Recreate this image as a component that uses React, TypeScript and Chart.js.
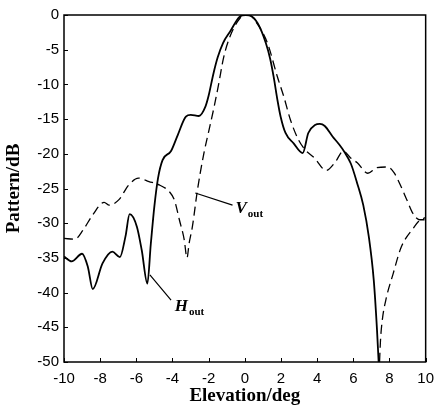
import React, { useEffect, useRef } from "react";
import { Chart, registerables } from "chart.js";

Chart.register(...registerables);

// H_out (solid)
const hOutX = [-10, -9.58, -9.0, -8.68, -8.41, -7.87, -7.33, -6.91, -6.6, -6.37, -5.97, -5.7, -5.39, -5.2, -5.0, -4.8, -4.55, -4.08, -3.71, -3.26, -2.99, -2.54, -2.18, -2.0, -1.75, -1.5, -1.2, -0.82, -0.28, 0.05, 0.26, 0.71, 1.17, 1.4, 1.6, 1.8, 1.98, 2.25, 2.7, 3.2, 3.51, 3.88, 4.15, 4.42, 4.85, 5.23, 5.5, 5.86, 6.22, 6.55, 6.86, 7.13, 7.31, 7.4, 7.45];
const hOutY = [-34.8, -35.5, -34.4, -36.3, -39.5, -35.8, -34.1, -34.9, -31.9, -28.7, -30.5, -33.9, -38.7, -33.0, -27.5, -23.5, -20.9, -19.6, -17.3, -14.65, -14.4, -14.55, -13.2, -11.6, -8.6, -6.1, -4.0, -2.4, -0.24, 0, -0.05, -1.2, -4.1, -6.3, -9.0, -12.2, -14.65, -17.0, -18.5, -19.9, -17.0, -15.85, -15.7, -16.0, -17.5, -18.7, -19.7, -21.4, -24.3, -27.4, -32.0, -38.2, -45.4, -50, -52];

// V_out (dashed), main path
const vOutX = [-10, -9.4, -8.95, -8.41, -7.78, -7.5, -6.96, -6.42, -5.88, -5.3, -4.8, -4.16, -3.89, -3.62, -3.35, -3.2, -3.08, -2.9, -2.63, -2.27, -2.0, -1.72, -1.45, -1.18, -0.82, -0.28, 0.05, 0.3, 0.75, 1.26, 1.8, 2.16, 2.52, 2.97, 3.33, 3.85, 4.5, 5.0, 5.45, 5.85, 6.22, 6.8, 7.3, 7.9, 8.27, 8.6, 8.97, 9.3, 9.66, 9.95];
const vOutY = [-32.2, -32.3, -31.0, -28.8, -27.0, -27.4, -26.6, -24.5, -23.5, -24.0, -24.4, -25.5, -26.7, -29.5, -32.4, -35.0, -32.9, -30.5, -25.4, -20.0, -16.8, -13.5, -10.0, -6.2, -3.1, -0.5, 0, -0.1, -1.5, -4.1, -8.9, -11.8, -15.1, -18.0, -19.4, -20.6, -22.4, -21.2, -19.6, -20.6, -21.3, -22.8, -22.0, -21.9, -22.8, -24.5, -26.7, -28.6, -29.5, -29.5];

// V_out (dashed), branch rising from the null
const vBranchX = [7.42, 7.5, 7.6, 7.83, 8.2, 8.64, 9.35, 9.66, 10];
const vBranchY = [-52, -47, -44, -40.7, -37.3, -33.5, -30.6, -29.6, -29.2];

const xTicks = [-10, -8, -6, -4, -2, 0, 2, 4, 6, 8, 10];
const yTicks = [0, -5, -10, -15, -20, -25, -30, -35, -40, -45, -50];

// annotation leader lines and labels (data units)
const hLeaderX = [-5.25, -4.08];
const hLeaderY = [-37.46, -41.07];
const vLeaderX = [-2.74, -0.68];
const vLeaderY = [-25.65, -27.4];
const hLabelPos = [-3.875, -42.65];
const vLabelPos = [-0.515, -28.53];

const toPts = (xs: number[], ys: number[]) => xs.map((x, i) => ({ x, y: ys[i] }));

const framePlugin = {
  id: "frameAndNotes",
  afterDatasetsDraw(chart: any) {
    const { ctx, chartArea: a, scales } = chart;
    const sx = scales.x;
    const sy = scales.y;
    ctx.save();
    ctx.strokeStyle = "#000";
    ctx.lineWidth = 1;
    ctx.beginPath();
    xTicks.forEach((v) => {
      const px = Math.round(sx.getPixelForValue(v)) + 0.5;
      ctx.moveTo(px, a.bottom);
      ctx.lineTo(px, a.bottom - 4);
    });
    yTicks.forEach((v) => {
      const py = Math.round(sy.getPixelForValue(v)) + 0.5;
      ctx.moveTo(a.left, py);
      ctx.lineTo(a.left + 4, py);
    });
    ctx.stroke();

    ctx.lineWidth = 1.5;
    ctx.strokeRect(a.left, a.top, a.right - a.left, a.bottom - a.top);

    // leaders
    ctx.lineWidth = 1.2;
    ctx.beginPath();
    ctx.moveTo(sx.getPixelForValue(hLeaderX[0]), sy.getPixelForValue(hLeaderY[0]));
    ctx.lineTo(sx.getPixelForValue(hLeaderX[1]), sy.getPixelForValue(hLeaderY[1]));
    ctx.moveTo(sx.getPixelForValue(vLeaderX[0]), sy.getPixelForValue(vLeaderY[0]));
    ctx.lineTo(sx.getPixelForValue(vLeaderX[1]), sy.getPixelForValue(vLeaderY[1]));
    ctx.stroke();

    // labels
    ctx.fillStyle = "#000";
    ctx.textBaseline = "alphabetic";
    ctx.textAlign = "left";
    const drawLabel = (main: string, pos: number[]) => {
      const px = sx.getPixelForValue(pos[0]);
      const py = sy.getPixelForValue(pos[1]);
      ctx.font = 'italic bold 17px "Liberation Serif", serif';
      ctx.fillText(main, px, py);
      const w = ctx.measureText(main).width;
      ctx.font = 'bold 11px "Liberation Serif", serif';
      ctx.fillText("out", px + w + 1, py + 4);
    };
    drawLabel("H", hLabelPos);
    drawLabel("V", vLabelPos);
    ctx.restore();
  },
};

export default function App() {
  const ref = useRef<HTMLCanvasElement | null>(null);
  useEffect(() => {
    document.body.style.margin = "0";
    const canvas = ref.current;
    if (!canvas) return;
    const tickFont = { family: '"Liberation Sans", Arial, sans-serif', size: 15 };
    const titleFont = { family: '"Liberation Serif", "Times New Roman", serif', size: 19, weight: "bold" as const, lineHeight: 1.2 };
    const chart = new Chart(canvas, {
      type: "line",
      data: {
        datasets: [
          {
            label: "H_out",
            data: toPts(hOutX, hOutY),
            borderColor: "#000",
            borderWidth: 1.8,
            pointRadius: 0,
            fill: false,
            cubicInterpolationMode: "monotone",
          },
          {
            label: "V_out",
            data: toPts(vOutX, vOutY),
            borderColor: "#000",
            borderWidth: 1.3,
            borderDash: [9, 5],
            pointRadius: 0,
            fill: false,
            cubicInterpolationMode: "monotone",
          },
          {
            label: "V_out branch",
            data: toPts(vBranchX, vBranchY),
            borderColor: "#000",
            borderWidth: 1.3,
            borderDash: [9, 5],
            pointRadius: 0,
            fill: false,
            cubicInterpolationMode: "monotone",
          },
        ],
      },
      options: {
        responsive: false,
        animation: false,
        devicePixelRatio: 1,
        layout: { padding: { top: 15, right: 9, bottom: 0, left: 0 } },
        plugins: { legend: { display: false }, tooltip: { enabled: false } },
        scales: {
          x: {
            type: "linear",
            min: -10,
            max: 10,
            afterBuildTicks: (s: any) => {
              s.ticks = xTicks.map((v) => ({ value: v }));
            },
            afterFit: (s: any) => {
              s.height = 48;
            },
            ticks: { font: tickFont, color: "#000", padding: 8, maxRotation: 0, autoSkip: false },
            grid: { display: false, drawTicks: false },
            border: { display: false },
            title: { display: true, text: "Elevation/deg", font: titleFont, color: "#000", padding: { top: 0, bottom: 3 } },
          },
          y: {
            type: "linear",
            min: -50,
            max: 0,
            afterBuildTicks: (s: any) => {
              s.ticks = yTicks.map((v) => ({ value: v }));
            },
            afterFit: (s: any) => {
              s.width = 64;
            },
            ticks: { font: tickFont, color: "#000", padding: 5, autoSkip: false },
            grid: { display: false, drawTicks: false },
            border: { display: false },
            title: { display: true, text: "Pattern/dB", font: titleFont, color: "#000", padding: { top: 3, bottom: 0 } },
          },
        },
      },
      plugins: [framePlugin],
    } as any);
    return () => chart.destroy();
  }, []);
  return (
    <div style={{ position: "absolute", left: 0, top: 0, width: 442, height: 410 }}>
      <canvas ref={ref} width={442} height={410} style={{ display: "block" }} />
    </div>
  );
}
